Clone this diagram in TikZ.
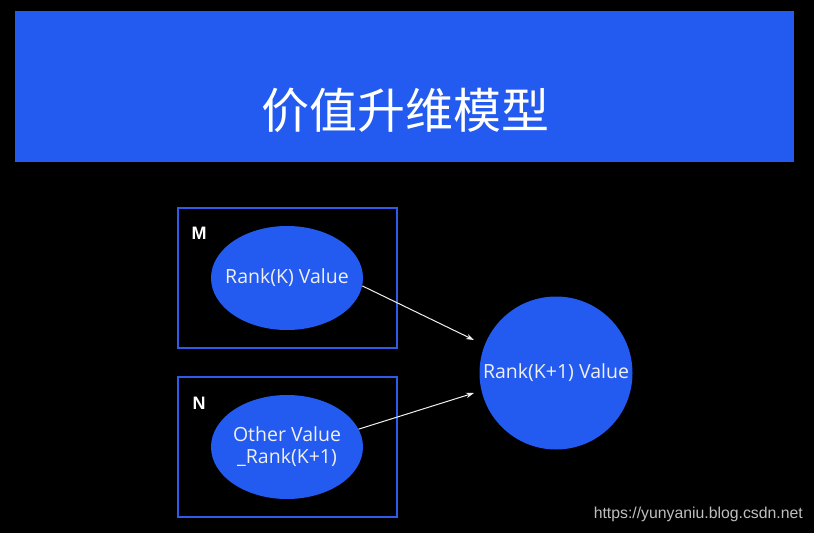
\documentclass[tikz,border=0pt]{standalone}
\usepackage{fontspec}
\setmainfont{Open Sans}
\setsansfont{Liberation Sans}
\newfontfamily\cjk{Noto Sans CJK SC}
\usetikzlibrary{arrows.meta}
\definecolor{slideblue}{HTML}{235AF0}
\definecolor{boxblue}{HTML}{2E5BE8}
\definecolor{inkwhite}{HTML}{F0F0F0}
\tikzset{
  valbox/.style={draw=boxblue, line width=1.4pt},
  valblob/.style={ellipse, fill=slideblue, minimum width=152pt, minimum height=104pt,
                  inner xsep=-14pt, inner ysep=0pt,
                  text=inkwhite, font=\fontsize{19.5}{22}\selectfont, align=center},
  boxtag/.style={text=white, font=\sffamily\bfseries\fontsize{18}{20}\selectfont},
  upline/.style={-{Stealth[length=8pt,width=5.5pt]}, draw=inkwhite, line width=1pt}
}
\usetikzlibrary{shapes.geometric}
\begin{document}
\begin{tikzpicture}[x=1pt,y=-1pt]
        % black slide
        \fill[black] (0,0) rectangle (814,533);
        \useasboundingbox (0,0) rectangle (814,533);

        % title banner
        \fill[slideblue] (15,11) rectangle (794,162);
        \node[text=white, font=\cjk\fontsize{48}{52}\selectfont] (title) at (405,110) {价值升维模型};

        % the two groups M and N
        \draw[valbox] (178,208) rectangle (397,348);
        \node[boxtag] (mtag) at (199,233) {M};
        \node[valblob] (mval) at (287,278) {Rank(K) Value};

        \draw[valbox] (178,377) rectangle (397,517);
        \node[boxtag] (ntag) at (199,403) {N};
        \node[valblob] (nval) at (287,447) {Other Value\\\_Rank(K+1)};

        % the value one rank up
        \node[valblob, circle, minimum size=153pt] (kval) at (556,373) {Rank(K+1) Value};

        % arrows stop short of the circle
        \coordinate (mtip) at (474,340);
        \coordinate (ntip) at (474,393);
        \draw[upline] (mval.-6) -- (mtip);
        \draw[upline] (nval.14) -- (ntip);

        % watermark
        \node[anchor=east, inner sep=0pt, text=white!75!black, font=\sffamily\fontsize{15.8}{18}\selectfont] (mark) at (803,514) {https://yunyaniu.blog.csdn.net};
      \end{tikzpicture}
\end{document}
